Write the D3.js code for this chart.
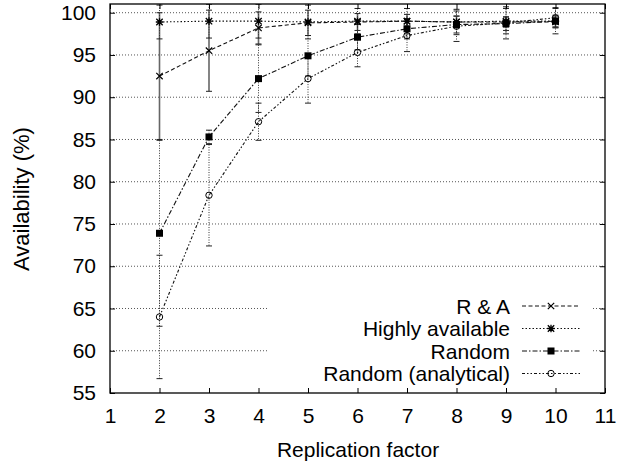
<!DOCTYPE html>
<html>
<head>
<meta charset="utf-8">
<script src="https://cdn.jsdelivr.net/npm/d3@7/dist/d3.min.js"></script>
<style>
  html, body { margin: 0; padding: 0; background: #fff; }
  svg { display: block; }
  text { font-family: "Liberation Sans", Arial, Helvetica, sans-serif; fill: #000; }
</style>
</head>
<body>
<svg id="chart" width="636" height="463"></svg>
<script>
// ---- data ----
const replication = [2, 3, 4, 5, 6, 7, 8, 9, 10];
const raValues     = [92.5, 95.5, 98.2, 98.8, 98.9, 99.0, 98.9, 98.9, 98.9];
const raErr        = [7.5, 4.8, 1.9, 1.5, 1.0, 0.8, 0.7, 0.6, 0.6];
const haValues     = [98.9, 99.0, 99.0, 98.9, 99.0, 99.0, 98.9, 99.0, 99.0];
const haErr        = [2.0, 2.0, 2.0, 2.0, 1.5, 1.5, 1.5, 1.5, 1.5];
const randomValues = [73.9, 85.3, 92.2, 94.9, 97.1, 98.1, 98.6, 98.7, 99.0];
const randomErr    = [11.0, 0.8, 4.0, 2.4, 1.5, 1.2, 1.0, 0.8, 0.7];
const raAnValues   = [64.0, 78.4, 87.1, 92.2, 95.3, 97.3, 98.4, 98.8, 99.4];
const raAnErr      = [7.3, 6.0, 2.2, 2.9, 1.7, 1.9, 1.8, 1.9, 1.2];
const xTicks = [1, 2, 3, 4, 5, 6, 7, 8, 9, 10, 11];
const yTicks = [55, 60, 65, 70, 75, 80, 85, 90, 95, 100];
const seriesNames = ["R & A", "Highly available", "Random", "Random (analytical)"];

// ---- layout ----
const L = 110, R = 605, T = 4, B = 393;
const FONT = 21;
const svg = d3.select("#chart");
const x = d3.scaleLinear().domain([1, 11]).range([L, R]);
const y = d3.scaleLinear().domain([55, 101.03]).range([B, T]);

svg.append("defs").append("clipPath").attr("id", "plotclip")
  .append("rect").attr("x", L).attr("y", T).attr("width", R - L).attr("height", B - T);

// key box region (grid lines are interrupted there)
const keyBox = { x0: 268, x1: 593, y0: 288, y1: 392 };

// ---- grid ----
const grid = svg.append("g");
yTicks.forEach(t => {
  if (t === 55) return;
  const yy = y(t);
  const segs = (yy > keyBox.y0 && yy < keyBox.y1) ? [[L, keyBox.x0], [keyBox.x1, R]] : [[L, R]];
  segs.forEach(s => {
    grid.append("line").attr("x1", s[0]).attr("x2", s[1]).attr("y1", yy).attr("y2", yy)
      .attr("stroke", "#555").attr("stroke-width", 1).attr("stroke-dasharray", "1,2");
  });
});

// ---- series ----
const series = [
  { name: seriesNames[0], v: raValues, e: raErr, dash: "4,2.5", marker: "cross",
    barStroke: "#666", barWidth: 1.6, barDash: null },
  { name: seriesNames[1], v: haValues, e: haErr, dash: "1.5,2", marker: "star",
    barStroke: "#333", barWidth: 1, barDash: "1,1.5" },
  { name: seriesNames[2], v: randomValues, e: randomErr, dash: "5,2,1.5,2", marker: "square",
    barStroke: "#333", barWidth: 1, barDash: "1,1.5" },
  { name: seriesNames[3], v: raAnValues, e: raAnErr, dash: "3,2,1.5,2,1.5,2", marker: "circle",
    barStroke: "#333", barWidth: 1, barDash: "1,1.5" }
];

const plot = svg.append("g").attr("clip-path", "url(#plotclip)");

// error bars
series.forEach(s => {
  const g = plot.append("g");
  replication.forEach((r, i) => {
    const xx = x(r), y1 = y(s.v[i] + s.e[i]), y2 = y(s.v[i] - s.e[i]);
    g.append("line").attr("x1", xx).attr("x2", xx).attr("y1", y1).attr("y2", y2)
      .attr("stroke", s.barStroke).attr("stroke-width", s.barWidth)
      .attr("stroke-dasharray", s.barDash);
    [y1, y2].forEach(cy => {
      g.append("line").attr("x1", xx - 3).attr("x2", xx + 3).attr("y1", cy).attr("y2", cy)
        .attr("stroke", "#222").attr("stroke-width", 1);
    });
  });
});

// lines
const lineGen = d3.line().x((d, i) => x(replication[i])).y(d => y(d));
series.forEach(s => {
  plot.append("path").attr("d", lineGen(s.v)).attr("fill", "none")
    .attr("stroke", "#111").attr("stroke-width", 1.1).attr("stroke-dasharray", s.dash);
});

function drawMarker(g, type, cx, cy) {
  const k = 3.2;
  if (type === "cross") {
    g.append("path").attr("d", `M${cx-k},${cy-k}L${cx+k},${cy+k}M${cx-k},${cy+k}L${cx+k},${cy-k}`)
      .attr("stroke", "#000").attr("stroke-width", 1.2).attr("fill", "none");
  } else if (type === "star") {
    g.append("path").attr("d", `M${cx-k},${cy-k}L${cx+k},${cy+k}M${cx-k},${cy+k}L${cx+k},${cy-k}M${cx},${cy-k-0.5}L${cx},${cy+k+0.5}M${cx-k-0.5},${cy}L${cx+k+0.5},${cy}`)
      .attr("stroke", "#000").attr("stroke-width", 1.3).attr("fill", "none");
  } else if (type === "square") {
    g.append("rect").attr("x", cx - 3.5).attr("y", cy - 3.5).attr("width", 7).attr("height", 7)
      .attr("fill", "#000");
  } else if (type === "circle") {
    g.append("circle").attr("cx", cx).attr("cy", cy).attr("r", 3.2)
      .attr("fill", "none").attr("stroke", "#000").attr("stroke-width", 1);
  }
}

// markers
series.forEach(s => {
  const g = plot.append("g");
  replication.forEach((r, i) => drawMarker(g, s.marker, x(r), y(s.v[i])));
});

// ---- frame & ticks ----
const axes = svg.append("g");
axes.append("rect").attr("x", L).attr("y", T).attr("width", R - L).attr("height", B - T)
  .attr("fill", "none").attr("stroke", "#000").attr("stroke-width", 1.3);

const xAxisB = d3.axisBottom(x).tickValues(xTicks).tickSize(-5).tickPadding(12).tickFormat(d3.format("d"));
const gxb = axes.append("g").attr("transform", `translate(0,${B})`).call(xAxisB);
gxb.select(".domain").remove();
gxb.selectAll("line").attr("stroke", "#000");
gxb.selectAll("text").attr("font-size", FONT).attr("dy", "0.71em").attr("y", 15)
  .style("font-family", '"Liberation Sans", Arial, sans-serif');

const xAxisT = d3.axisTop(x).tickValues(xTicks).tickSize(-5).tickFormat("");
const gxt = axes.append("g").attr("transform", `translate(0,${T})`).call(xAxisT);
gxt.select(".domain").remove();
gxt.selectAll("line").attr("stroke", "#000");

const yAxisL = d3.axisLeft(y).tickValues(yTicks).tickSize(-5).tickPadding(14).tickFormat(d3.format("d"));
const gyl = axes.append("g").attr("transform", `translate(${L},0)`).call(yAxisL);
gyl.select(".domain").remove();
gyl.selectAll("line").attr("stroke", "#000");
gyl.selectAll("text").attr("font-size", FONT)
  .style("font-family", '"Liberation Sans", Arial, sans-serif');

const yAxisR = d3.axisRight(y).tickValues(yTicks).tickSize(-5).tickFormat("");
const gyr = axes.append("g").attr("transform", `translate(${R},0)`).call(yAxisR);
gyr.select(".domain").remove();
gyr.selectAll("line").attr("stroke", "#000");
axes.selectAll(".tick text").attr("fill", "#000");

// ---- axis labels ----
svg.append("text").attr("x", (L + R) / 2 + 0.5).attr("y", 457).attr("text-anchor", "middle")
  .attr("font-size", FONT).text("Replication factor");
svg.append("text").attr("transform", "translate(29,199) rotate(-90)").attr("text-anchor", "middle")
  .attr("font-size", 22).text("Availability (%)");

// ---- legend ----
const legend = svg.append("g");
const rowY = [306, 328.5, 351, 373.5];
series.forEach((s, i) => {
  const ly = rowY[i];
  legend.append("text").attr("x", 510).attr("y", ly).attr("dy", "0.36em").attr("text-anchor", "end")
    .attr("font-size", FONT).text(s.name);
  legend.append("line").attr("x1", 522).attr("x2", 580).attr("y1", ly).attr("y2", ly)
    .attr("stroke", "#111").attr("stroke-width", 1).attr("stroke-dasharray", s.dash);
  drawMarker(legend, s.marker, 551, ly);
});
</script>
</body>
</html>
